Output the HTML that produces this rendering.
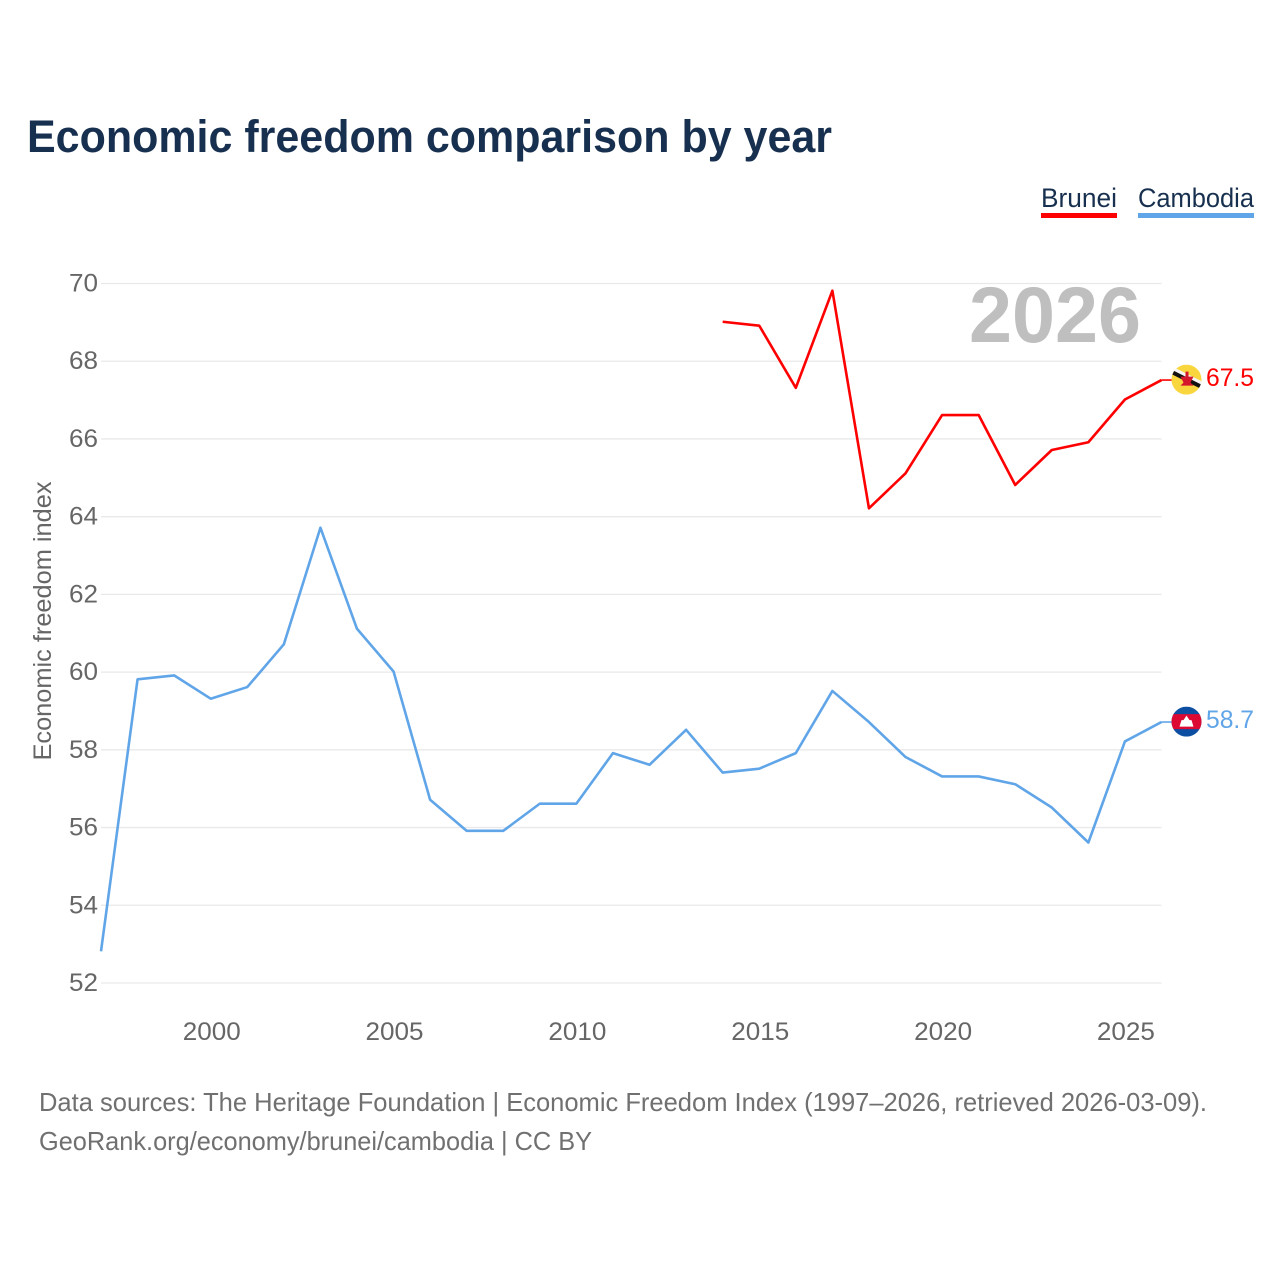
<!DOCTYPE html>
<html lang="en">
<head>
<meta charset="utf-8">
<title>Economic freedom comparison by year</title>
<style>
html,body{margin:0;padding:0;background:#fff}
svg{display:block}
text{font-family:"Liberation Sans",sans-serif}
</style>
</head>
<body>
<svg id="chart" width="1280" height="1280" viewBox="0 0 1280 1280" xmlns="http://www.w3.org/2000/svg">
  <rect width="1280" height="1280" fill="#fff"/>
  <text x="27" y="152" font-size="45" font-weight="700" fill="#18304f" textLength="805" lengthAdjust="spacingAndGlyphs">Economic freedom comparison by year</text>

  <g>
    <text x="1041" y="207" font-size="27" fill="#18304f" textLength="76" lengthAdjust="spacingAndGlyphs">Brunei</text>
    <rect x="1041" y="213" width="76" height="5" fill="#ff0000"/>
  </g>
  <g>
    <text x="1138" y="207" font-size="27" fill="#18304f" textLength="116" lengthAdjust="spacingAndGlyphs">Cambodia</text>
    <rect x="1138" y="213" width="116" height="5" fill="#60a5e8"/>
  </g>

  <g id="grid"></g>
  <g id="yticks"></g>
  <g id="xticks"></g>

  <text x="0" y="0" transform="translate(51,621) rotate(-90)" text-anchor="middle" font-size="25" fill="#666" textLength="279" lengthAdjust="spacingAndGlyphs">Economic freedom index</text>

  <text x="1141" y="342" text-anchor="end" font-size="79" font-weight="700" fill="#bfbfbf" textLength="172" lengthAdjust="spacingAndGlyphs">2026</text>

  <g id="series" transform="translate(0,-0.6)"></g>

  <g id="flag-brunei">
    <defs>
      <clipPath id="clip-brunei"><circle cx="15" cy="15" r="15"/></clipPath>
      <clipPath id="clip-cambodia"><circle cx="15" cy="15" r="15"/></clipPath>
    </defs>
    <g clip-path="url(#clip-brunei)">
      <rect width="30" height="30" fill="#f9d63e"/>
      <polygon points="-1,6 1,2 31,17 29,21" fill="#f4f4f4"/>
      <polygon points="-1,9 1,5.5 31,20.5 29,24" fill="#111"/>
      <path d="M14,7 L17,7 L17,12 L22,12 L19,18 L22,21 L9,21 L12,18 L9,12 L14,12 Z" fill="#d5172b"/>
    </g>
  </g>
  <g id="flag-cambodia">
    <g clip-path="url(#clip-cambodia)">
      <rect width="30" height="30" fill="#0b4ea2"/>
      <rect y="7.5" width="30" height="15" fill="#dc0a32"/>
      <polygon points="15,9 18,13.5 20,13.5 22,20 8,20 10,13.5 12,13.5" fill="#fff"/>
    </g>
  </g>

  <text x="1206" y="386" font-size="25" fill="#ff0000" textLength="48" lengthAdjust="spacingAndGlyphs">67.5</text>
  <text x="1206" y="728" font-size="25" fill="#60a5e8" textLength="48" lengthAdjust="spacingAndGlyphs">58.7</text>

  <g>
    <text x="39" y="1111" font-size="26" fill="#707070" textLength="1168" lengthAdjust="spacingAndGlyphs">Data sources: The Heritage Foundation | Economic Freedom Index (1997–2026, retrieved 2026-03-09).</text>
    <text x="39" y="1150" font-size="26" fill="#707070" textLength="553" lengthAdjust="spacingAndGlyphs">GeoRank.org/economy/brunei/cambodia | CC BY</text>
  </g>
</svg>
<script>
var yTickLabels = [52, 54, 56, 58, 60, 62, 64, 66, 68, 70];
var xTickLabels = [2000, 2005, 2010, 2015, 2020, 2025];
var cambodiaYears = [1997,1998,1999,2000,2001,2002,2003,2004,2005,2006,2007,2008,2009,2010,2011,2012,2013,2014,2015,2016,2017,2018,2019,2020,2021,2022,2023,2024,2025,2026];
var cambodiaValues = [52.8,59.8,59.9,59.3,59.6,60.7,63.7,61.1,60.0,56.7,55.9,55.9,56.6,56.6,57.9,57.6,58.5,57.4,57.5,57.9,59.5,58.7,57.8,57.3,57.3,57.1,56.5,55.6,58.2,58.7];
var bruneiYears = [2014,2015,2016,2017,2018,2019,2020,2021,2022,2023,2024,2025,2026];
var bruneiValues = [69.0,68.9,67.3,69.8,64.2,65.1,66.6,66.6,64.8,65.7,65.9,67.0,67.5];

function xScale(year) { return 101 + (year - 1997) * (1161.5 - 101) / 29; }
function yScale(value) { return 983 - (value - 52) * (983 - 283.5) / 18; }

var NS = 'http://www.w3.org/2000/svg';
function make(tag, attrs, parent) {
  var el = document.createElementNS(NS, tag);
  for (var k in attrs) el.setAttribute(k, attrs[k]);
  parent.appendChild(el);
  return el;
}

var grid = document.getElementById('grid');
var yticks = document.getElementById('yticks');
var xticks = document.getElementById('xticks');
var series = document.getElementById('series');

yTickLabels.forEach(function (v) {
  var line = make('line', {x1: 101, x2: 1161.5, y1: yScale(v), y2: yScale(v), stroke: '#e9e9e9', 'stroke-width': 1.3}, grid);
  
  
  var t = make('text', {x: 98, y: yScale(v) + 8, 'text-anchor': 'end', 'font-size': 25, fill: '#666', textLength: 29, lengthAdjust: 'spacingAndGlyphs'}, yticks);
  t.textContent = v;
  
  
});

xTickLabels.forEach(function (v) {
  var t = make('text', {x: xScale(v) + 1, y: 1040, 'text-anchor': 'middle', 'font-size': 25, fill: '#666', textLength: 58, lengthAdjust: 'spacingAndGlyphs'}, xticks);
  t.textContent = v;
  
  
});

function drawSeries(years, values, color, key) {
  var pts = years.map(function (y, i) { return xScale(y).toFixed(2) + ',' + yScale(values[i]).toFixed(2); });
  var line = make('polyline', {points: pts.join(' '), fill: 'none', stroke: color, 'stroke-width': 2.6, 'stroke-linejoin': 'round'}, series);
  
  
  var last = values[values.length - 1];
  var lx = xScale(years[years.length - 1]);
  var ly = yScale(last);
  var conn = make('line', {x1: lx, x2: lx + 10, y1: ly, y2: ly, stroke: color, 'stroke-width': 1.6}, series);
  
  
  document.getElementById('flag-' + key).setAttribute('transform', 'translate(' + (lx + 10) + ',' + (ly - 16) + ')');
}

drawSeries(bruneiYears, bruneiValues, '#ff0000', 'brunei');
drawSeries(cambodiaYears, cambodiaValues, '#60a5e8', 'cambodia');
</script>
</body>
</html>
